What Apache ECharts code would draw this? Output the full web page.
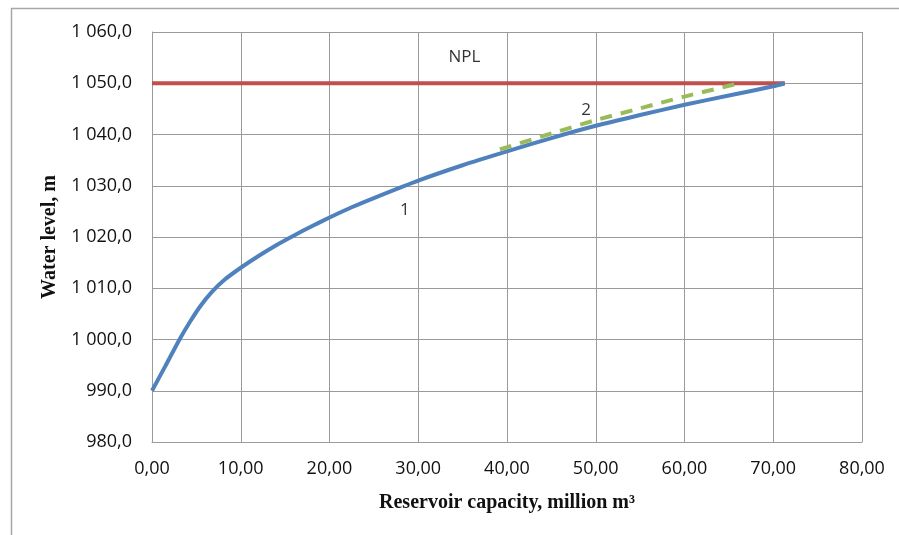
<!DOCTYPE html>
<html><head><meta charset="utf-8">
<script src="https://cdn.jsdelivr.net/npm/echarts@6/dist/echarts.min.js"></script>
<style>html,body{margin:0;padding:0;background:#fff}#c{width:899px;height:535px}</style>
</head><body><div id="c"></div>
<script>
// Curve 1 (blue): reservoir capacity (million m3) vs water level (m)
const curve1X = [0, 1.5, 3.1, 4.3, 5.4, 6.7, 8.2, 10, 12, 14, 16, 18, 20, 22.5, 25, 30, 35, 40, 45, 50, 55, 60, 65, 70, 71.3];
const curve1Y = [990, 994.8, 1000, 1003.5, 1006.4, 1009.2, 1011.7, 1014, 1016.3, 1018.4, 1020.3, 1022.1, 1023.8, 1025.8, 1027.6, 1031, 1034, 1036.7, 1039.3, 1041.7, 1043.8, 1045.8, 1047.6, 1049.4, 1050];
// Curve 2 (green dashed)
const curve2X = [39.2, 45, 50, 55, 60, 66.2];
const curve2Y = [1037.1, 1040.2, 1042.8, 1045.1, 1047.4, 1050];
// NPL line
const nplX = [0, 71.3];
const nplY = [1050, 1050];
// Annotation labels
const labelTexts = ['NPL', '2', '1'];
const labelX = [35.2, 48.9, 28.5];
const labelY = [1055, 1044.7, 1025.3];
// Axis settings
const xMin = 0, xMax = 80, xStep = 10;
const yMin = 980, yMax = 1060, yStep = 10;

const tickFont = 'Open Sans';
function fmtY(v){ const s = v.toFixed(1).replace('.', ','); const [i, d] = s.split(','); return (i.length > 3 ? i.slice(0, i.length-3) + ' ' + i.slice(-3) : i) + ',' + d; }
function fmtX(v){ return v.toFixed(2).replace('.', ','); }
function zip(a, b){ return a.map((v, i) => [v, b[i]]); }

const chart = echarts.init(document.getElementById('c'), null, {renderer: 'canvas'});
chart.setOption({
  animation: false,
  backgroundColor: '#fff',
  grid: {left: 152, right: 37, top: 32, bottom: 93, containLabel: false},
  xAxis: {
    type: 'value', min: xMin, max: xMax, interval: xStep,
    name: 'Reservoir capacity, million m³', nameLocation: 'middle', nameGap: 51,
    nameTextStyle: {fontFamily: 'Liberation Serif', fontWeight: 'bold', fontSize: 20, color: '#111'},
    axisLine: {show: true, lineStyle: {color: '#9a9a9a', width: 1}},
    axisTick: {show: false},
    axisLabel: {formatter: fmtX, fontFamily: tickFont, fontSize: 18, color: '#111', margin: 18},
    splitLine: {show: true, lineStyle: {color: '#9a9a9a', width: 1}}
  },
  yAxis: {
    type: 'value', min: yMin, max: yMax, interval: yStep,
    name: 'Water level, m', nameLocation: 'middle', nameGap: 90, nameRotate: 90,
    nameTextStyle: {fontFamily: 'Liberation Serif', fontWeight: 'bold', fontSize: 20, color: '#111'},
    axisLine: {show: true, lineStyle: {color: '#9a9a9a', width: 1}},
    axisTick: {show: false},
    axisLabel: {formatter: fmtY, fontFamily: tickFont, fontSize: 18, color: '#111', margin: 20},
    splitLine: {show: true, lineStyle: {color: '#9a9a9a', width: 1}}
  },
  graphic: [
    {type: 'line', shape: {x1: 11, y1: 8.5, x2: 899, y2: 8.5}, style: {stroke: '#a6a6a6', lineWidth: 1.5}},
    {type: 'line', shape: {x1: 11.5, y1: 8, x2: 11.5, y2: 535}, style: {stroke: '#a6a6a6', lineWidth: 1.5}}
  ],
  series: [
    {type: 'line', data: zip(nplX, nplY), symbol: 'none', lineStyle: {color: '#C0504D', width: 4}, z: 3},
    {type: 'line', data: zip(curve1X, curve1Y), symbol: 'none', smooth: 0.2, lineStyle: {color: '#4F81BD', width: 4}, z: 4},
    {type: 'line', data: zip(curve2X, curve2Y), symbol: 'none', smooth: 0.3, lineStyle: {color: '#9BBB59', width: 4, type: [12, 9]}, z: 5},
    {type: 'scatter', data: labelTexts.map((t, i) => ({value: [labelX[i], labelY[i]], name: t})),
     symbolSize: 0, silent: true, z: 6,
     label: {show: true, position: 'inside', formatter: p => p.name, fontFamily: tickFont, fontSize: 17, color: '#000'}}
  ]
});
</script></body></html>
